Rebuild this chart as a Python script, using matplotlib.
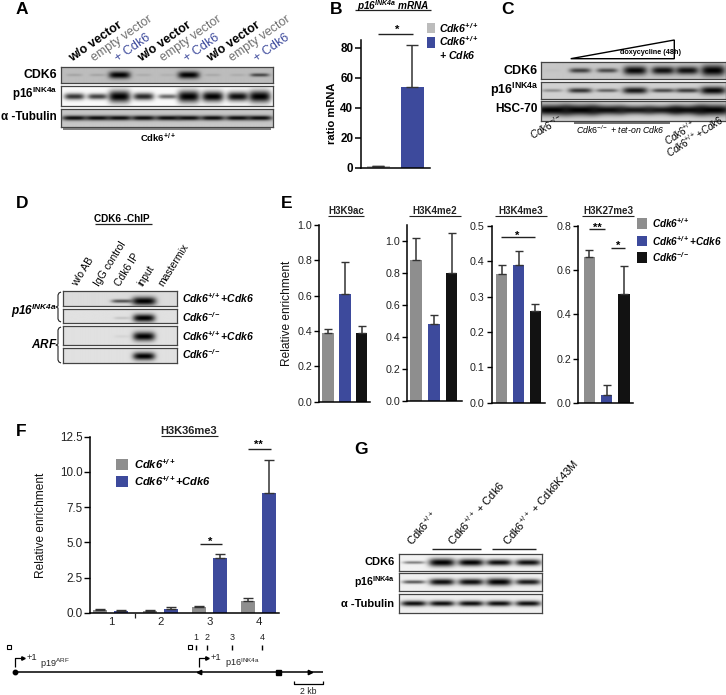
import numpy as np
import matplotlib
matplotlib.use("Agg")
import matplotlib.pyplot as plt

plt.rcParams["font.family"] = ["Liberation Sans", "DejaVu Sans"]
plt.rcParams["mathtext.fontset"] = "custom"
plt.rcParams["mathtext.rm"] = "Liberation Sans"
plt.rcParams["mathtext.it"] = "Liberation Sans:italic"
plt.rcParams["mathtext.bf"] = "Liberation Sans:bold"
plt.rcParams["mathtext.bfit"] = "Liberation Sans:italic:bold"
plt.rcParams["mathtext.default"] = "regular"

W, H = 726, 695
GRAY, LIGHT, BLUE, BLACK = "#8e8e8e", "#bcbcbc", "#3d4a9c", "#121212"
DARK = "#333333"

# panel B
b_values = [1.0, 54.0]
b_errors = [0.4, 28.0]
# panel E
k9ac_values, k9ac_errors = [0.39, 0.61, 0.39], [0.02, 0.18, 0.04]
k4me2_values, k4me2_errors = [0.88, 0.48, 0.80], [0.135, 0.06, 0.25]
k4me3_values, k4me3_errors = [0.365, 0.39, 0.26], [0.025, 0.04, 0.018]
k27me3_values, k27me3_errors = [0.66, 0.035, 0.49], [0.03, 0.045, 0.13]
# panel F
f_sites = ["1", "2", "3", "4"]
f_wt_values, f_wt_errors = [0.20, 0.10, 0.42, 0.85], [0.08, 0.10, 0.06, 0.20]
f_cdk6_values, f_cdk6_errors = [0.12, 0.25, 3.85, 8.50], [0.05, 0.15, 0.35, 2.35]

# blot band strengths per lane
a_cdk6 = [0.12, 0.12, 0.95, 0.08, 0.06, 0.95, 0.10, 0.08, 0.60]
a_p16 = [0.75, 0.70, 1.0, 0.80, 0.55, 1.0, 0.95, 0.90, 1.0]
a_tub = [0.90, 0.90, 0.90, 0.90, 0.90, 0.90, 0.90, 0.90, 0.90]
c_cdk6 = [0.03, 0.65, 0.60, 0.92, 0.88, 0.88, 1.0]
c_p16 = [0.30, 0.72, 0.50, 0.85, 0.62, 0.68, 0.92]
c_hsc = [0.95, 0.95, 0.90, 0.85, 0.85, 0.90, 0.95]
d_p16_a = [0.0, 0.0, 0.60, 1.0, 0.0]
d_p16_b = [0.0, 0.0, 0.12, 1.0, 0.0]
d_arf_a = [0.0, 0.0, 0.05, 1.0, 0.0]
d_arf_b = [0.0, 0.0, 0.0, 1.0, 0.0]
g_cdk6 = [0.45, 1.0, 0.95, 0.90, 0.90]
g_p16 = [0.60, 0.90, 0.90, 0.95, 0.85]
g_tub = [0.90, 0.90, 0.90, 0.90, 0.90]

fig = plt.figure(figsize=(W / 100, H / 100), dpi=100)


def px_axes(x0, y0, x1, y1):
    return fig.add_axes([x0 / W, 1 - y1 / H, (x1 - x0) / W, (y1 - y0) / H])


def blot(box, lane_px, strengths, bg, band_w, band_h=0.24, cy=0.5):
    x0, y0, x1, y1 = box
    nx, ny = int((x1 - x0) * 3), int((y1 - y0) * 3)
    xx, yy = np.meshgrid(np.linspace(x0, x1, nx), np.linspace(0, 1, ny))
    img = np.full(xx.shape, bg, dtype=float)
    for c, s in zip(lane_px, strengths):
        w = band_w * (0.75 + 0.35 * s)
        h = band_h * (0.4 + 0.8 * s ** 4)
        band = np.exp(-((xx - c) / w) ** 4) * np.exp(-((yy - cy) / h) ** 2)
        img = img * (1 - min(1.0, s * 1.05) * band)
    ax = px_axes(x0, y0, x1, y1)
    ax.imshow(img, cmap="gray", vmin=0, vmax=1, aspect="auto", interpolation="bilinear")
    ax.set_xticks([])
    ax.set_yticks([])
    for s in ax.spines.values():
        s.set_color("#444444")
        s.set_linewidth(0.9)


def bars(box, values, errors, ylim, yticks, labels, first, pitch):
    left, top, right, bottom = box
    ax = px_axes(left, top, right, bottom)
    pos = np.arange(len(values))
    ax.bar(pos, values, width=11.5 / pitch, color=[GRAY, BLUE, BLACK])
    ax.errorbar(pos, values, yerr=[[0] * len(values), errors], fmt="none",
                ecolor=DARK, elinewidth=1.1, capsize=2.6, capthick=1.0)
    ax.set_xlim((left - first) / pitch, (right - first) / pitch)
    ax.set_ylim(*ylim)
    ax.set_yticks(yticks)
    ax.set_yticklabels(labels, fontsize=7.7, color="#222222")
    ax.set_xticks([])
    ax.tick_params(axis="y", length=3.5, width=1.0, pad=1.5)
    ax.patch.set_alpha(0)
    for s in ["top", "right"]:
        ax.spines[s].set_visible(False)
    for s in ["left", "bottom"]:
        ax.spines[s].set_linewidth(1.1)
    return ax


# panel B chart
ax = px_axes(361, 40, 430, 168)
ax.bar([0, 1], b_values, width=23 / 34, color=[LIGHT, BLUE])
ax.errorbar([0, 1], b_values, yerr=[[0, 0], b_errors], fmt="none", ecolor=DARK,
            elinewidth=1.1, capsize=4, capthick=1.0)
ax.set_xlim(-17 / 34, 52 / 34)
ax.set_ylim(0, 85.3)
ax.set_yticks([0, 20, 40, 60, 80])
ax.set_yticklabels(["0", "20", "40", "60", "80"], fontsize=8.4, fontweight="bold")
ax.set_xticks([])
ax.tick_params(axis="y", length=4, width=1.1, pad=1.5)
ax.patch.set_alpha(0)
for s in ["top", "right"]:
    ax.spines[s].set_visible(False)
for s in ["left", "bottom"]:
    ax.spines[s].set_linewidth(1.1)

# panel E charts
bars((319.3, 225, 370, 401.7), k9ac_values, k9ac_errors, (0, 1.0),
     [0, 0.2, 0.4, 0.6, 0.8, 1.0], ["0.0", "0.2", "0.4", "0.6", "0.8", "1.0"], 328, 16.8)
bars((407.3, 225, 461.7, 401.3), k4me2_values, k4me2_errors, (0, 1.098),
     [0, 0.2, 0.4, 0.6, 0.8, 1.0], ["0.0", "0.2", "0.4", "0.6", "0.8", "1.0"], 416, 17.8)
bars((491.7, 226, 545, 402.7), k4me3_values, k4me3_errors, (0, 0.5),
     [0, 0.1, 0.2, 0.3, 0.4, 0.5], ["0.0", "0.1", "0.2", "0.3", "0.4", "0.5"], 501.7, 16.8)
bars((578.3, 226, 632.7, 402.7), k27me3_values, k27me3_errors, (0, 0.8),
     [0, 0.2, 0.4, 0.6, 0.8], ["0.0", "0.2", "0.4", "0.6", "0.8"], 589.3, 17.3)

# panel F chart
ax = px_axes(90, 436.7, 279, 612.7)
pos = np.arange(4)
off, bw = 0.215, 14 / 49.3
ax.bar(pos - off, f_wt_values, width=bw, color=GRAY)
ax.bar(pos + off, f_cdk6_values, width=bw, color=BLUE)
ax.errorbar(pos - off, f_wt_values, yerr=[[0] * 4, f_wt_errors], fmt="none", ecolor=DARK,
            elinewidth=1.1, capsize=3.5, capthick=1.0)
ax.errorbar(pos + off, f_cdk6_values, yerr=[[0] * 4, f_cdk6_errors], fmt="none", ecolor=DARK,
            elinewidth=1.1, capsize=3.5, capthick=1.0)
ax.set_xlim((90 - 110.8) / 49.3, (279 - 110.8) / 49.3)
ax.set_ylim(0, 12.5)
ax.set_yticks([0, 2.5, 5, 7.5, 10, 12.5])
ax.set_yticklabels(["0.0", "2.5", "5.0", "7.5", "10.0", "12.5"], fontsize=8.4, color="#222222")
ax.set_xticks(pos)
ax.set_xticklabels(f_sites, fontsize=8.2, color="#222222")
ax.tick_params(axis="x", length=0, pad=3)
ax.tick_params(axis="y", length=4, width=1.0, pad=1.5)
ax.patch.set_alpha(0)
for s in ["top", "right"]:
    ax.spines[s].set_visible(False)
for s in ["left", "bottom"]:
    ax.spines[s].set_linewidth(1.1)

# blots
a_lanes = [74, 97, 119, 143, 167, 188, 212, 237, 259]
blot((60.7, 66.7, 273, 82.7), a_lanes, a_cdk6, 0.74, 10, band_h=0.22)
blot((60.7, 85.7, 273, 105.7), a_lanes, a_p16, 0.98, 10, band_h=0.24, cy=0.55)
blot((60.7, 108.7, 273, 126.7), a_lanes, a_tub, 0.78, 11.5, band_h=0.15)

c_lanes = [552, 580, 607, 635, 663, 687, 713]
blot((541, 62.3, 725.7, 79.3), c_lanes, c_cdk6, 0.78, 11, band_h=0.27)
blot((541, 82, 725.7, 98.7), c_lanes, c_p16, 0.82, 12, band_h=0.24)
blot((541, 101, 725.7, 120.7), c_lanes, c_hsc, 0.84, 17, band_h=0.26, cy=0.45)

d_lanes = [68, 93, 122, 144, 167]
blot((63.3, 291, 176.7, 306), d_lanes, d_p16_a, 0.86, 11, band_h=0.24, cy=0.68)
blot((63.3, 309.3, 176.7, 322.7), d_lanes, d_p16_b, 0.88, 10, band_h=0.24, cy=0.65)
blot((63.3, 326, 176.7, 345), d_lanes, d_arf_a, 0.88, 10, band_h=0.2, cy=0.55)
blot((63.3, 347.7, 176.7, 362.7), d_lanes, d_arf_b, 0.88, 10, band_h=0.22, cy=0.55)

g_lanes = [414, 442, 471, 499, 528]
blot((399.3, 554.3, 541.7, 570.7), g_lanes, g_cdk6, 0.95, 12, band_h=0.2)
blot((399.3, 573.3, 541.7, 591.3), g_lanes, g_p16, 0.94, 12, band_h=0.2, cy=0.5)
blot((399.3, 594.3, 541.7, 612.7), g_lanes, g_tub, 0.94, 12, band_h=0.16)

# overlay in reference pixel coordinates for labels and annotations
ov = fig.add_axes([0, 0, 1, 1], zorder=10)
ov.set_xlim(0, W)
ov.set_ylim(H, 0)
ov.axis("off")


def T(x, y, s, size=8, ha="left", va="center", rot=0, color="black", **kw):
    ov.text(x, y, s, fontsize=size, ha=ha, va=va, rotation=rot, color=color,
            rotation_mode="anchor", **kw)


def L(xs, ys, lw=1.0, color="#222222", **kw):
    ov.plot(xs, ys, color=color, lw=lw, solid_capstyle="butt", **kw)


def square(x0, y0, x1, y1, color):
    ov.fill([x0, x1, x1, x0], [y0, y0, y1, y1], color=color, lw=0)


WT = r"$\mathbfit{Cdk6}^{\mathbfit{+/+}}$"
WT_PLUS = r"$\mathbfit{Cdk6}^{\mathbfit{+/+}}{\mathbfit{+}}\mathbfit{Cdk6}$"
KO = r"$\mathbfit{Cdk6}^{\mathbfit{-/-}}$"
P16 = r"$\mathbf{p16}^{\mathbf{INK4a}}$"
CWT = r"$\mathit{Cdk6}^{+/+}$"

for letter, x, y in [("A", 16, 10), ("B", 330, 10), ("C", 501, 10), ("D", 16, 203),
                     ("E", 281, 203), ("F", 16, 432), ("G", 354, 450)]:
    T(x, y, letter, size=12.5, fontweight="bold")

# panel A text
a_names = ["w/o vector", "empty vector", "+ Cdk6"]
a_colors = ["black", "#707070", BLUE]
a_starts = [72, 94, 118, 141, 163, 187, 210, 232, 257]
for i, x in enumerate(a_starts):
    T(x, 62, a_names[i % 3], size=9, va="baseline", rot=35, color=a_colors[i % 3],
      fontweight="bold" if i % 3 == 0 else "normal")
T(57, 74.5, "CDK6", size=8.8, ha="right", fontweight="bold")
T(57, 94, P16, size=8.4, ha="right")
T(57, 116.5, "α -Tubulin", size=8.4, ha="right", fontweight="bold")
L([63, 271], [128.5, 128.5], lw=1.2, color="#666666")
T(158, 138, r"$\mathbf{Cdk6}^{\mathbf{+/+}}$", size=6.8, ha="center")

# panel B text
T(393, 6.5, r"$\mathbfit{p16}^{\mathbfit{INK4a}}\ \mathbfit{mRNA}$", size=7.2, ha="center", va="center")
L([355, 431], [10, 10], lw=0.9)
T(397, 30, "*", size=8, ha="center", fontweight="bold")
L([378, 412.5], [33.5, 33.5], lw=1.0)
T(332, 113, "ratio mRNA", size=8, ha="center", rot=90, fontweight="bold")
square(426.7, 22.7, 435, 33.3, LIGHT)
square(426.7, 37.3, 435, 48.3, BLUE)
T(439, 28.5, WT, size=7.6)
T(439, 41.5, WT, size=7.6)
T(439, 55, r"$\mathbfit{+\ Cdk6}$", size=7.6)

# panel C text
ov.fill([570.7, 674.3, 674.3], [58.7, 40, 58.7], facecolor="white", edgecolor="black", lw=1.0)
T(651, 52, "doxycycline (48h)", size=5.2, ha="center", family=["Liberation Sans Narrow", "Liberation Sans"],
  fontweight="bold")
T(538, 71, "CDK6", size=9, ha="right", fontweight="bold")
T(538, 90, P16, size=9, ha="right")
T(538, 109, "HSC-70", size=8.6, ha="right", fontweight="bold")
L([574, 670], [123, 123], lw=1.2, color="#555555")
T(533, 140, r"$\mathit{Cdk6}^{-/-}$", size=7.2, va="baseline", rot=30)
T(576.5, 134, r"$\mathit{Cdk6}^{-/-}$ + tet-on Cdk6", size=6.3, va="baseline", style="italic")
T(668, 146, CWT, size=7, va="baseline", rot=33)
T(670, 158, r"$\mathit{Cdk6}^{+/+}{+}\mathit{Cdk6}$", size=7, va="baseline", rot=33)

# panel D text
T(122, 218.5, "CDK6 -ChIP", size=7.2, ha="center", fontweight="bold")
L([95, 152], [223.5, 223.5], lw=0.9)
d_names = ["w/o AB", "IgG control", "Cdk6 IP", "input", "mastermix"]
d_starts = [77, 99, 120, 143, 163]
for x, name in zip(d_starts, d_names):
    T(x, 287, name, size=7.5, va="baseline", rot=58)
T(11, 311, r"$\mathbfit{p16}^{\mathbfit{INK4a}}$", size=8.5)
T(31, 344, r"$\mathbfit{ARF}$", size=8.5)
for y0, y1 in [(292, 322), (327, 363)]:
    ym = (y0 + y1) / 2
    L([61, 59, 58, 58, 56, 58, 58, 59, 61], [y0, y0 + 1, y0 + 3, ym - 1, ym, ym + 1, y1 - 3, y1 - 1, y1], lw=0.8)
T(182, 298, WT_PLUS, size=7.5)
T(182, 317, KO, size=7.5)
T(182, 336, WT_PLUS, size=7.5)
T(182, 354, KO, size=7.5)

# panel E text
for x, name in [(346, "H3K9ac"), (435, "H3K4me2"), (520.7, "H3K4me3"), (608.3, "H3K27me3")]:
    half = 26 if len(name) > 6 else 18
    T(x, 210.7, name, size=7, ha="center", fontweight="bold", color="#222222")
    L([x - half, x + half], [215.5, 215.5], lw=0.8)
T(287.5, 313, "Relative enrichment", size=8.6, ha="center", rot=90, color="#111111")
L([501, 535], [237, 237], lw=1.0)
T(517.5, 236, "*", size=8, ha="center", fontweight="bold")
L([589, 605], [229, 229], lw=1.0)
T(597, 228, "**", size=8, ha="center", fontweight="bold")
L([611, 624.5], [248, 248], lw=1.0)
T(618, 246, "*", size=8, ha="center", fontweight="bold")
square(636.7, 218, 646.7, 229, GRAY)
square(636.7, 235.7, 646.7, 245.7, BLUE)
square(636.7, 252, 646.7, 262.7, BLACK)
T(652.5, 223.5, WT, size=7.2)
T(652.5, 241, WT_PLUS, size=7.2)
T(652.5, 257.5, KO, size=7.2)

# panel F text
T(189, 431, "H3K36me3", size=8, ha="center", fontweight="bold", color="#222222")
L([161, 217.5], [436, 436], lw=0.8)
T(40.5, 525, "Relative enrichment", size=8.6, ha="center", rot=90, color="#111111")
square(116, 459, 128.3, 470, GRAY)
square(116, 476, 128.3, 486.7, BLUE)
T(134, 464.5, WT, size=8)
T(134, 481.5, WT_PLUS, size=8)
L([200, 221.5], [543.5, 543.5], lw=1.0)
T(210, 541.5, "*", size=8, ha="center", fontweight="bold")
L([248, 271], [449, 449], lw=1.0)
T(258, 445, "**", size=8, ha="center", fontweight="bold")
L([135.3, 135.3], [613, 618], lw=0.9)

# gene map
L([15, 323], [672.3, 672.3], lw=1.1, color="black")
ov.plot([15], [672.3], "o", color="black", ms=3.2)
ov.plot([199], [672.3], "<", color="black", ms=3.2)
ov.plot([310], [672.3], ">", color="black", ms=3.2)
ov.plot([277.7], [672.3], "s", color="black", ms=3.6)
ov.plot([9, 190], [647, 647], "s", mfc="white", mec="black", mew=0.8, ms=3.4)
for x, n in zip([196, 206.7, 231.7, 262.3], f_sites):
    L([x, x], [645, 649.5], lw=1.0, color="black")
    T(x, 638, n, size=6.4, ha="center", color="#222222")
for x, xp, lbl in [(14.7, 40, "p19$^{ARF}$"), (199.3, 225, "p16$^{INK4a}$")]:
    L([x, x, x + 6], [667, 658, 658], lw=0.9, color="black")
    ov.plot([x + 8], [658], ">", color="black", ms=2.5)
    T(x + 11.5, 657, "+1", size=6.8, color="#222222")
    T(xp, 663.5, lbl, size=6.6, color="#222222")
L([294.3, 294.3, 323.3, 323.3], [680.5, 684, 684, 680.5], lw=0.9, color="black")
T(308.7, 691.5, "2 kb", size=6.2, ha="center", color="#222222")

# panel G text
g_labels = [("Cdk6$^{+/+}$", 412), ("Cdk6$^{+/+}$ + Cdk6", 453), ("Cdk6$^{+/+}$ + Cdk6K43M", 508)]
for name, x in g_labels:
    T(x, 547, name, size=8, va="baseline", rot=49)
L([432, 481], [548.5, 548.5], lw=1.0)
L([492, 536], [548.5, 548.5], lw=1.0)
T(395, 562, "CDK6", size=8, ha="right", fontweight="bold")
T(395, 582, P16, size=7.6, ha="right")
T(394, 604, "α -Tubulin", size=8, ha="right", fontweight="bold")

fig.savefig("out.png", dpi=100)
